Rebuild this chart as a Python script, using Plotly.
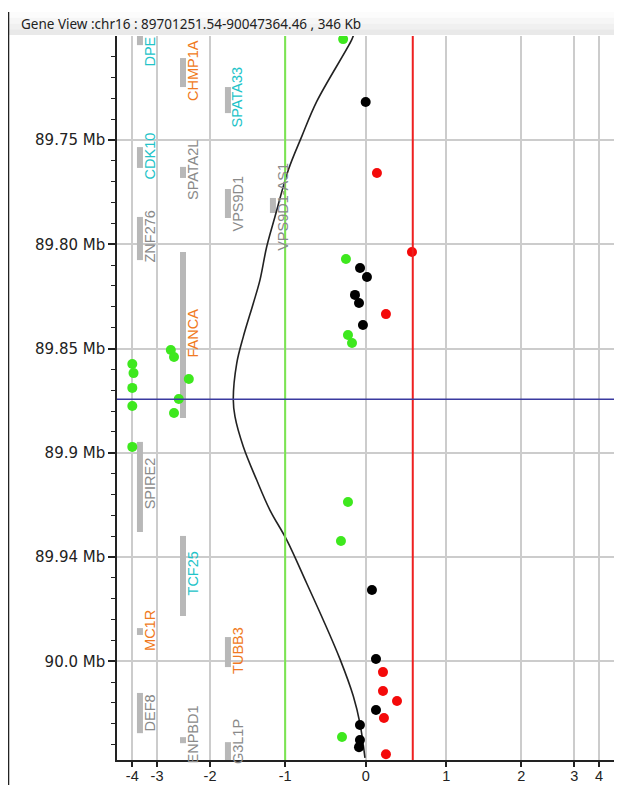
import numpy as np
import plotly.graph_objects as go

# ---------------- data ----------------
TITLE = "Gene View :chr16 : 89701251.54-90047364.46 , 346 Kb"
Y_START, Y_END = 89.70125154, 90.04736446

# nonlinear x scale: tick value -> display position
X_TICK_VALUES = [-4, -3, -2, -1, 0, 1, 2, 3, 4]
X_TICK_POS = [-2.899, -2.592, -1.933, -1.0, 0.0, 1.0, 1.933, 2.592, 2.899]
X_TICK_LABELS = ["-4", "-3", "-2", "-1", "0", "1", "2", "3", "4"]

Y_TICK_VALUES = [89.75, 89.80, 89.85, 89.90, 89.95, 90.00]
Y_TICK_LABELS = ["89.75 Mb", "89.80 Mb", "89.85 Mb", "89.9 Mb", "89.94 Mb", "90.0 Mb"]

THRESH_LOW = -1.0
THRESH_HIGH = 0.585
MARKER_POS = 89.8744

# genes: name shown, lane (x value), start, end (Mb), label centre (Mb), colour class
GENE_NAMES = ["DPE", "CHMP1A", "SPATA33", "CDK10", "SPATA2L", "VPS9D1", "VPS9D1-AS1",
              "ZNF276", "FANCA", "SPIRE2", "TCF25", "MC1R", "TUBB3", "DEF8",
              "ENPBD1", "G3L1P"]
GENE_LANE = [-3.69, -2.51, -1.762, -3.69, -2.51, -1.762, -1.163,
             -3.69, -2.51, -3.69, -2.51, -3.69, -1.762, -3.69,
             -2.51, -1.762]
GENE_START = [89.6950, 89.7107, 89.7246, 89.7534, 89.7629, 89.7735, 89.7778,
              89.7869, 89.8037, 89.8948, 89.9399, 89.9841, 89.9884, 90.0152,
              90.0364, 90.0388]
GENE_END = [89.7045, 89.7246, 89.7371, 89.7634, 89.7682, 89.7874, 89.7850,
            89.8076, 89.8833, 89.9380, 89.9783, 89.9874, 90.0028, 90.0345,
            90.0393, 90.0500]
GENE_LABEL_AT = [89.7076, 89.7169, 89.7296, 89.7574, 89.7644, 89.7805, 89.7821,
                 89.7963, 89.8428, 89.9147, 89.9579, 89.9850, 89.9946, 90.0246,
                 90.0351, 90.0383]
GENE_CLASS = ["c", "o", "c", "c", "g", "g", "g",
              "g", "o", "g", "c", "o", "o", "g",
              "g", "g"]

GREEN_X = [-4.0, -3.95, -4.0, -4.0, -4.0, -2.74, -2.68, -2.40, -2.59, -2.68,
           -0.28, -0.245, -0.22, -0.17, -0.22, -0.307, -0.294]
GREEN_Y = [89.8574, 89.8618, 89.8689, 89.8776, 89.8972, 89.8507, 89.8541, 89.8646, 89.8742, 89.8809,
           89.7016, 89.8071, 89.8435, 89.8474, 89.9236, 89.9423, 90.0363]
BLACK_X = [0.0, -0.07, 0.016, -0.133, -0.083, -0.034, 0.078, 0.128, 0.128, -0.071, -0.071, -0.083]
BLACK_Y = [89.7318, 89.8114, 89.8157, 89.8243, 89.8282, 89.8387, 89.9658, 89.9989, 90.0234,
           90.0306, 90.0378, 90.0412]
RED_X = [0.14, 0.575, 0.252, 0.215, 0.215, 0.389, 0.227, 0.252]
RED_Y = [89.7658, 89.8037, 89.8335, 90.0052, 90.0143, 90.0191, 90.0272, 90.0446]

CURVE_X = [-0.15, -0.174, -0.609, -0.795, -0.961, -1.136, -1.246, -1.335, -1.424, -1.557, -1.645,
           -1.691, -1.668, -1.557, -1.379, -1.203, -0.981, -0.733, -0.527, -0.319,
           -0.154, -0.071, -0.009]
CURVE_Y = [89.6995, 89.7020, 89.7316, 89.7484, 89.7644, 89.7868, 89.8012, 89.8171, 89.8283, 89.8443,
           89.8571, 89.8744, 89.8827, 89.8971, 89.9131, 89.9275, 89.9418, 89.9626,
           89.9802, 89.9990, 90.0167, 90.0298, 90.0463]

# ---------------- scale ----------------
def tx(v):
    v = np.asarray(v, dtype=float)
    out = np.interp(v, X_TICK_VALUES, X_TICK_POS)
    lo = v < X_TICK_VALUES[0]
    hi = v > X_TICK_VALUES[-1]
    out[lo] = X_TICK_POS[0] + (v[lo] - X_TICK_VALUES[0]) * 0.307
    out[hi] = X_TICK_POS[-1] + (v[hi] - X_TICK_VALUES[-1]) * 0.307
    return out

COLORS = {"c": "#22c3c8", "o": "#f07a22", "g": "#8a8a8a"}
GRID = "#cccccc"

fig = go.Figure()

# gene bars
bx, by = [], []
for lane, s, e in zip(GENE_LANE, GENE_START, GENE_END):
    p = float(tx([lane])[0])
    bx += [p, p, None]
    by += [s, e, None]
fig.add_trace(go.Scatter(x=bx, y=by, mode="lines", line=dict(color="#b8b8b8", width=6),
                         hoverinfo="skip", showlegend=False))

# thresholds
fig.add_vline(x=float(tx([THRESH_LOW])[0]), line=dict(color="#7ae650", width=2))
fig.add_vline(x=float(tx([THRESH_HIGH])[0]), line=dict(color="#ee2020", width=2))
fig.add_hline(y=MARKER_POS, line=dict(color="#3a3aa0", width=1.5))

# curve
fig.add_trace(go.Scatter(x=tx(CURVE_X), y=CURVE_Y, mode="lines",
                         line=dict(color="#222222", width=1.6, shape="spline", smoothing=1.0),
                         hoverinfo="skip", showlegend=False))

# dots
for xs, ys, col in [(GREEN_X, GREEN_Y, "#3ee81e"), (BLACK_X, BLACK_Y, "#000000"), (RED_X, RED_Y, "#f40a0a")]:
    fig.add_trace(go.Scatter(x=tx(xs), y=ys, mode="markers",
                             marker=dict(color=col, size=10, line=dict(width=0)),
                             showlegend=False))

# gene labels
for name, lane, at, cls in zip(GENE_NAMES, GENE_LANE, GENE_LABEL_AT, GENE_CLASS):
    fig.add_annotation(x=float(tx([lane])[0]), y=at, text=name, textangle=-90, showarrow=False,
                       xshift=10, xanchor="center", yanchor="middle",
                       font=dict(family="Liberation Sans, Arial", size=14.5, color=COLORS[cls]))

# title bar and frame
for i, c in enumerate(["#fcfcfc", "#f6f6f6", "#f0f0f0", "#e9e9e9"]):
    y0 = 1.0014 + (1.0331 - 1.0014) * (3 - i) / 4
    y1 = 1.0014 + (1.0331 - 1.0014) * (4 - i) / 4
    fig.add_shape(type="rect", xref="paper", yref="paper", x0=-0.2158, x1=1.0, y0=y0, y1=y1,
                  fillcolor=c, line=dict(width=0), layer="above")
fig.add_shape(type="line", xref="paper", yref="paper", x0=-0.2148, x1=-0.2148, y0=-0.04, y1=1.0331,
              line=dict(color="#222222", width=1.5), layer="above")
fig.add_annotation(xref="paper", yref="paper", x=-0.194, y=1.0172, text=TITLE, showarrow=False,
                   xanchor="left", yanchor="middle",
                   font=dict(family="Noto Sans, Open Sans", size=13.5, color="#222222"))

fig.update_layout(
    width=614, height=777,
    margin=dict(l=109, r=0, t=28, b=25, autoexpand=False),
    paper_bgcolor="white", plot_bgcolor="white",
    showlegend=False,
    xaxis=dict(range=[-3.089, 3.184], tickmode="array", tickvals=X_TICK_POS, ticktext=X_TICK_LABELS,
               showgrid=True, gridcolor=GRID, gridwidth=1.5, zeroline=False,
               showline=True, linecolor="#222222", linewidth=1.5,
               ticks="outside", ticklen=5, tickcolor="#222222", tickwidth=1.5,
               ticklabelstandoff=-3,
               tickfont=dict(family="Liberation Sans, Arial", size=14.5, color="#222222")),
    yaxis=dict(range=[Y_END, 89.75 - 104 / 2085], tickmode="array", tickvals=Y_TICK_VALUES,
               ticktext=Y_TICK_LABELS,
               showgrid=True, gridcolor=GRID, gridwidth=1.5, zeroline=False,
               showline=True, linecolor="#222222", linewidth=1.5,
               ticks="outside", ticklen=7, tickcolor="#222222", tickwidth=1.5,
               tickfont=dict(family="DejaVu Sans", size=15, color="#222222"),
               minor=dict(tickmode="array", tickvals=[round(89.70 + 0.01 * i, 2) for i in range(35)],
                          ticks="outside", ticklen=4, tickcolor="#222222", tickwidth=1.2, showgrid=False)),
)

fig.write_html("out.html")
